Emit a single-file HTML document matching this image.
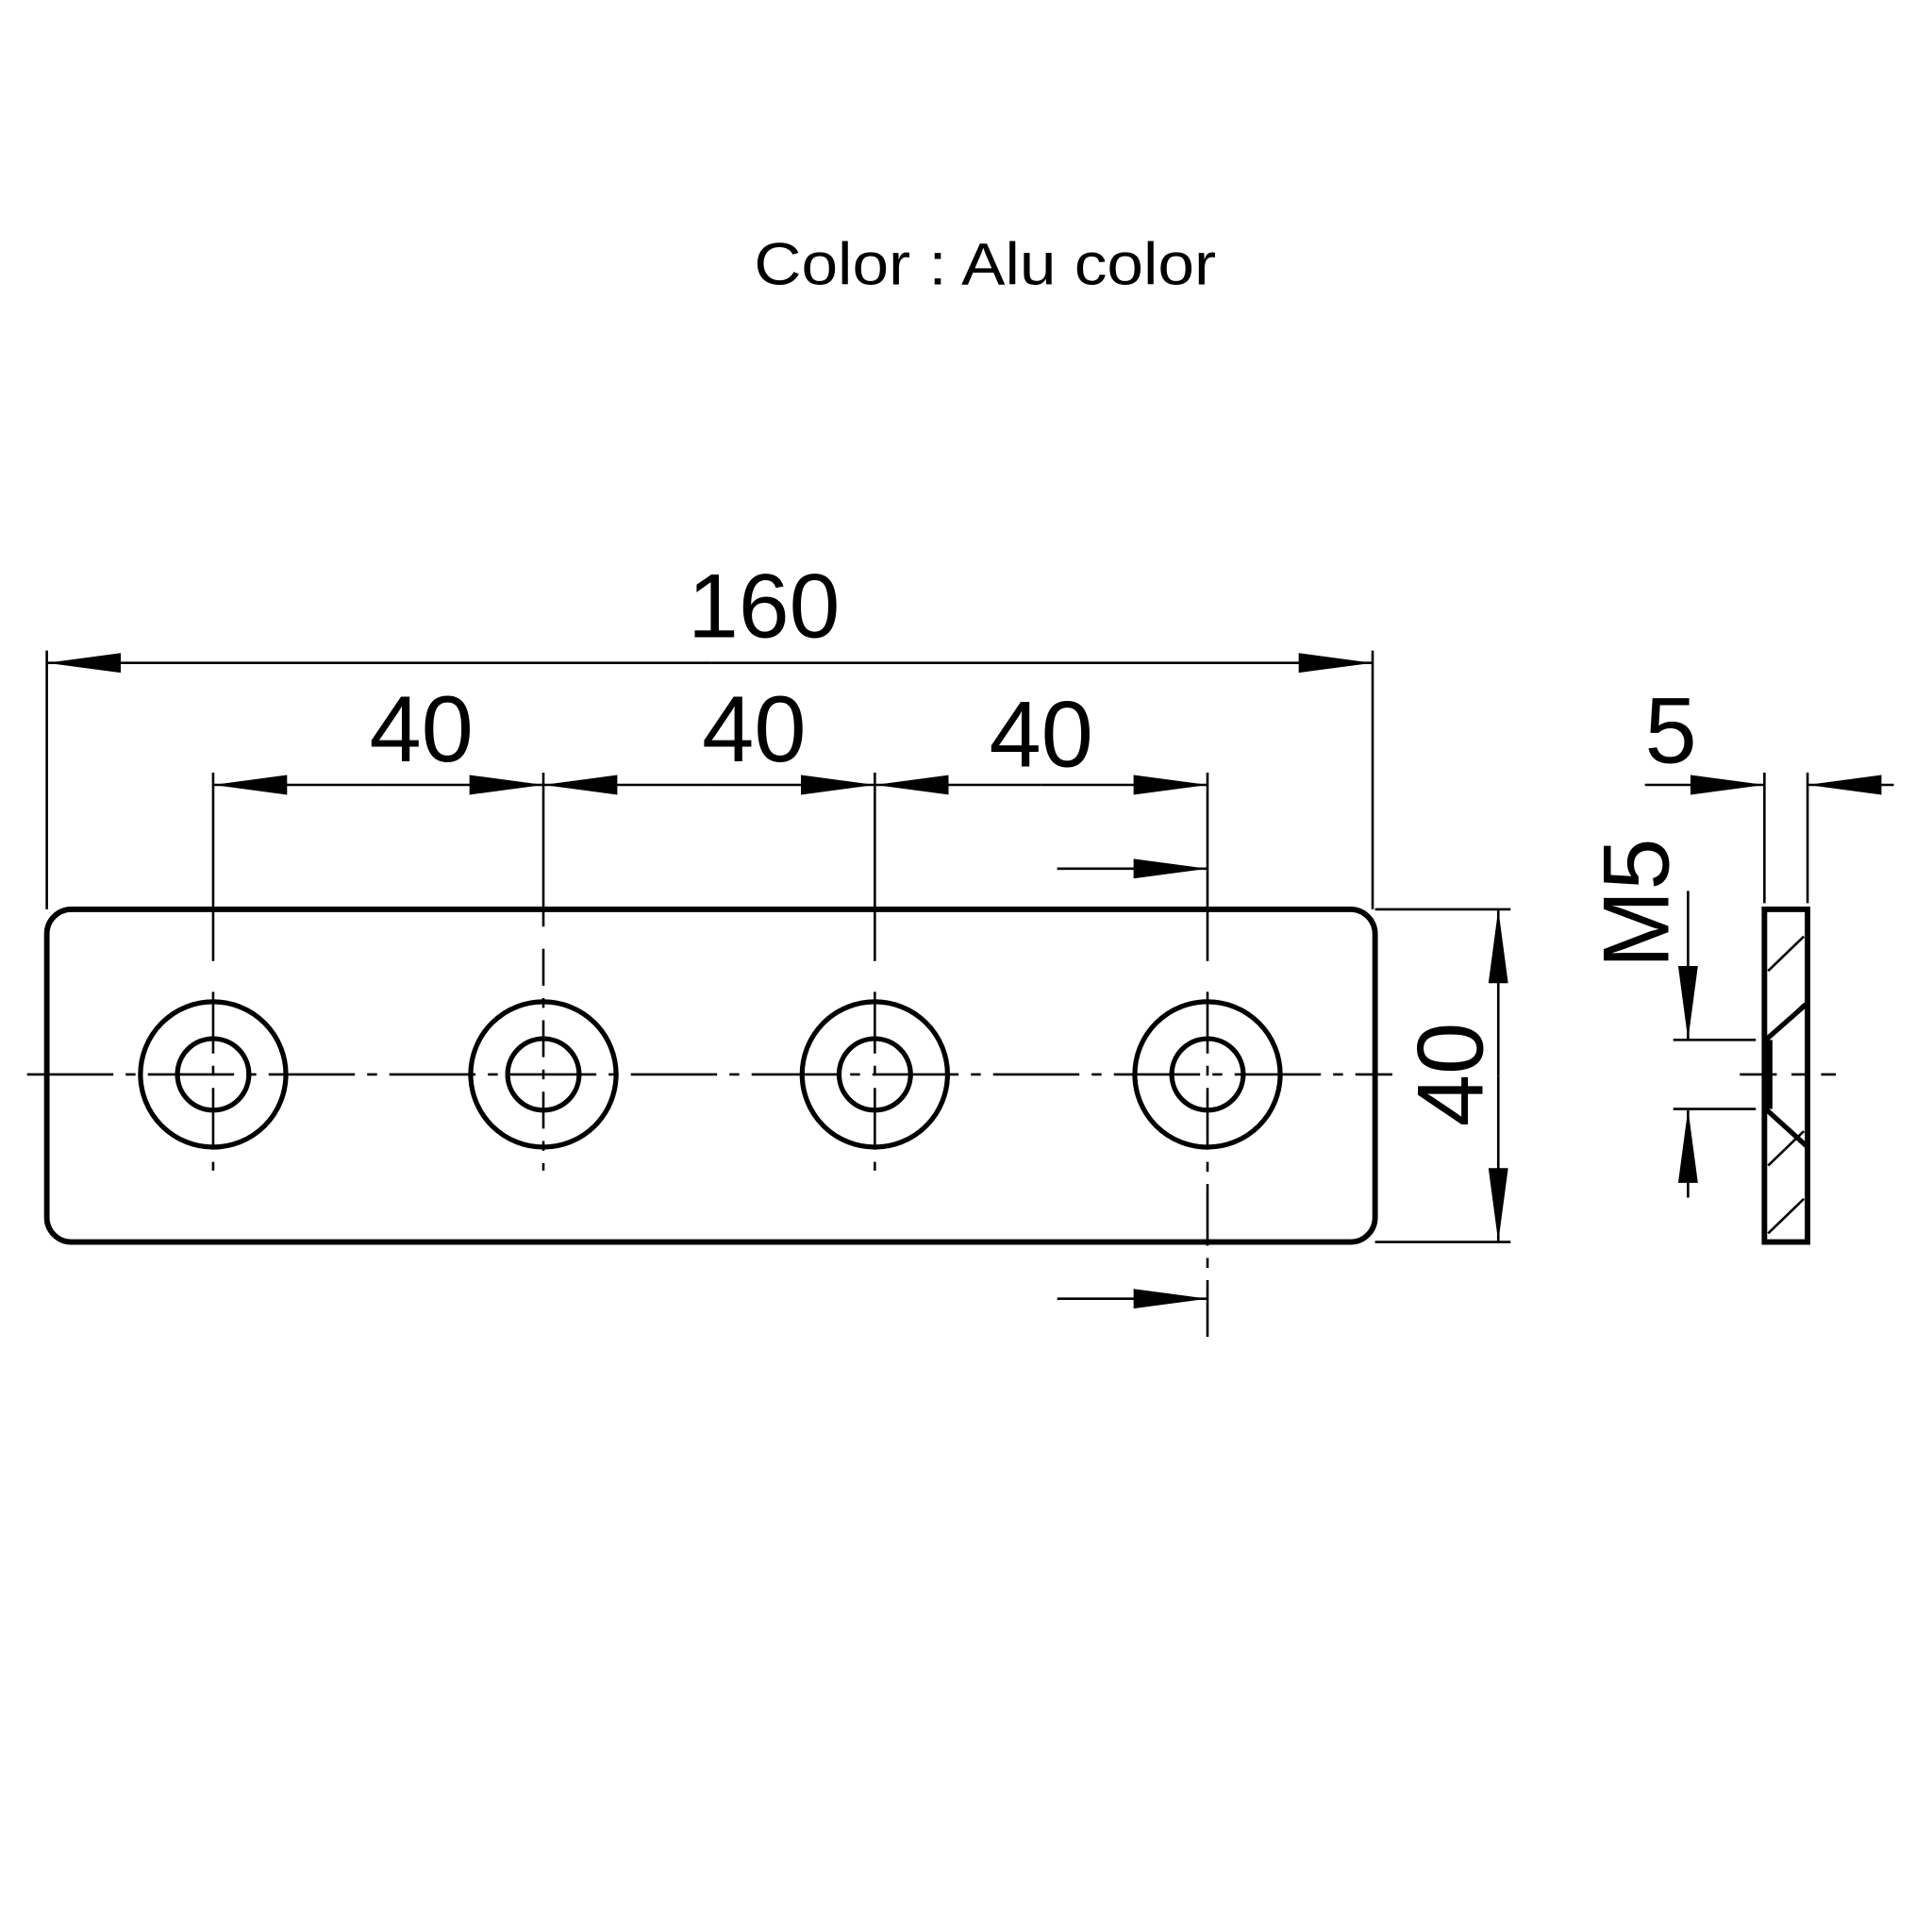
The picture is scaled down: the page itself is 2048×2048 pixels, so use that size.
<!DOCTYPE html>
<html><head><meta charset="utf-8"><style>
html,body{margin:0;padding:0;background:#fff;}
svg{display:block;}
text{font-family:"Liberation Sans",sans-serif;fill:#000;}
</style></head><body>
<svg width="2048" height="2048" viewBox="0 0 1568 1568" xmlns="http://www.w3.org/2000/svg">
<defs>
<marker id="a" viewBox="0 0 60 16" refX="60" refY="8" markerWidth="60" markerHeight="16" markerUnits="userSpaceOnUse" orient="auto"><path d="M0,0 L60,8 L0,16 Z" fill="#000"/></marker>
</defs>
<text x="612" y="231" font-size="48" textLength="375" lengthAdjust="spacingAndGlyphs">Color : Alu color</text>

<!-- plate -->
<rect x="38" y="738" width="1078" height="270" rx="20" fill="none" stroke="#000" stroke-width="4.5"/>
<!-- center line -->
<line x1="22" y1="872" x2="1130" y2="872" stroke="#000" stroke-width="2" stroke-dasharray="70,10,8,10"/>
<g fill="none" stroke="#000" stroke-width="4">
<circle cx="173" cy="872" r="59"/><circle cx="173" cy="872" r="29"/>
<circle cx="441" cy="872" r="59"/><circle cx="441" cy="872" r="29"/>
<circle cx="710" cy="872" r="59"/><circle cx="710" cy="872" r="29"/>
<circle cx="980" cy="872" r="59"/><circle cx="980" cy="872" r="29"/>
</g>
<g stroke="#000" stroke-width="2" fill="none">
<line x1="173" y1="627" x2="173" y2="780"/><line x1="173" y1="805" x2="173" y2="950" stroke-dasharray="50,10,8,10"/>
<line x1="441" y1="627" x2="441" y2="752"/><line x1="441" y1="770" x2="441" y2="950" stroke-dasharray="30,10,8,10"/>
<line x1="710" y1="627" x2="710" y2="780"/><line x1="710" y1="805" x2="710" y2="950" stroke-dasharray="50,10,8,10"/>
<line x1="980" y1="627" x2="980" y2="780"/><line x1="980" y1="805" x2="980" y2="1085" stroke-dasharray="50,10,8,10"/>
<line x1="38" y1="528" x2="38" y2="738"/><line x1="1114" y1="528" x2="1114" y2="738"/>
<line x1="577" y1="538" x2="38" y2="538" marker-end="url(#a)"/>
<line x1="577" y1="538" x2="1114" y2="538" marker-end="url(#a)"/>
<line x1="307" y1="637" x2="173" y2="637" marker-end="url(#a)"/><line x1="307" y1="637" x2="441" y2="637" marker-end="url(#a)"/>
<line x1="575" y1="637" x2="441" y2="637" marker-end="url(#a)"/><line x1="575" y1="637" x2="710" y2="637" marker-end="url(#a)"/>
<line x1="845" y1="637" x2="710" y2="637" marker-end="url(#a)"/><line x1="845" y1="637" x2="980" y2="637" marker-end="url(#a)"/>
<line x1="858" y1="705" x2="980" y2="705" marker-end="url(#a)"/>
<line x1="858" y1="1054" x2="980" y2="1054" marker-end="url(#a)"/>
<line x1="1116" y1="738" x2="1226" y2="738"/><line x1="1116" y1="1008" x2="1226" y2="1008"/>
<line x1="1216" y1="873" x2="1216" y2="738" marker-end="url(#a)"/>
<line x1="1216" y1="873" x2="1216" y2="1008" marker-end="url(#a)"/>
<line x1="1432" y1="627" x2="1432" y2="733"/><line x1="1467" y1="627" x2="1467" y2="733"/>
<line x1="1335" y1="637" x2="1432" y2="637" marker-end="url(#a)"/>
<line x1="1537" y1="637" x2="1467" y2="637" marker-end="url(#a)"/>
<line x1="1370" y1="723" x2="1370" y2="844" marker-end="url(#a)"/>
<line x1="1370" y1="972" x2="1370" y2="900" marker-end="url(#a)"/>
<line x1="1358" y1="844" x2="1425" y2="844"/><line x1="1358" y1="900" x2="1425" y2="900"/>
<line x1="1412" y1="872" x2="1490" y2="872" stroke-dasharray="30,12,12,12"/>
<line x1="1435" y1="788" x2="1464" y2="760"/>
<line x1="1435" y1="843" x2="1464" y2="815"/>
<line x1="1435" y1="946" x2="1464" y2="918"/>
<line x1="1435" y1="1001" x2="1464" y2="973"/>
</g>
<rect x="1432" y="738" width="35" height="270" fill="none" stroke="#000" stroke-width="4.5"/>
<path d="M1433,844 L1466,815 M1433,900 L1466,930" stroke="#000" stroke-width="4" fill="none"/>
<line x1="1435" y1="844" x2="1435" y2="900" stroke="#000" stroke-width="7"/>

<text x="620" y="517" font-size="74" text-anchor="middle">160</text>
<text x="342" y="618" font-size="76" text-anchor="middle">40</text>
<text x="612" y="618" font-size="76" text-anchor="middle">40</text>
<text x="845" y="622" font-size="76" text-anchor="middle">40</text>
<text x="1356" y="619" font-size="76" text-anchor="middle">5</text>
<text transform="translate(1203,872) rotate(-90)" font-size="76" text-anchor="middle">40</text>
<text transform="translate(1354,733) rotate(-90)" font-size="76" text-anchor="middle">M5</text>
</svg>
</body></html>
